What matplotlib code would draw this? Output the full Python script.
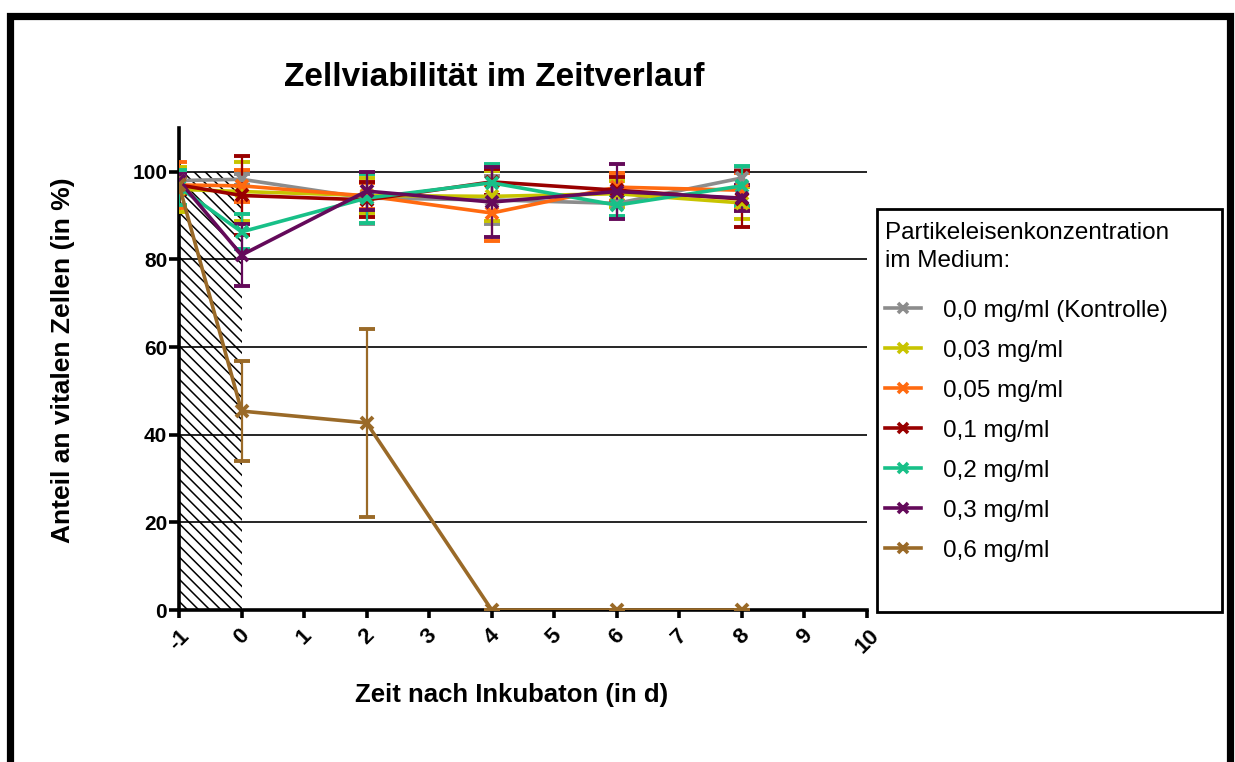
import matplotlib
matplotlib.use("Agg")
import matplotlib.pyplot as plt
from matplotlib.patches import Rectangle
from matplotlib.lines import Line2D

plt.rcParams['font.family'] = ['Liberation Sans', 'DejaVu Sans']
plt.rcParams['hatch.linewidth'] = 1.1

# ---- data ----
days = [-1, 0, 2, 4, 6, 8]
labels = ["0,0 mg/ml (Kontrolle)", "0,03 mg/ml", "0,05 mg/ml", "0,1 mg/ml",
          "0,2 mg/ml", "0,3 mg/ml", "0,6 mg/ml"]
colors = ["#8c8c8c", "#c8c400", "#ff6a10", "#990000", "#18c088", "#640a5a", "#9a6a28"]

v_00 = [98.0, 98.3, 94.0, 93.6, 92.8, 98.6]
e_00 = [2.0, 1.2, 5.8, 5.5, 3.0, 2.0]
v_003 = [96.0, 95.5, 94.6, 94.4, 95.0, 92.9]
e_003 = [5.2, 6.8, 4.0, 5.7, 3.0, 3.6]
v_005 = [97.0, 96.8, 94.5, 90.6, 96.5, 95.8]
e_005 = [5.2, 3.7, 3.0, 6.5, 3.2, 4.0]
v_01 = [97.0, 94.6, 93.6, 97.7, 95.8, 93.8]
e_01 = [2.0, 9.1, 4.0, 3.0, 3.0, 6.3]
v_02 = [96.5, 86.3, 94.0, 97.5, 92.4, 96.8]
e_02 = [4.0, 4.0, 5.6, 4.2, 2.4, 4.6]
v_03 = [98.0, 81.0, 95.6, 93.1, 95.5, 94.0]
e_03 = [1.5, 7.0, 4.4, 7.9, 6.3, 3.0]
v_06 = [97.0, 45.4, 42.7, 0.0, 0.0, 0.0]
e_06 = [1.5, 11.4, 21.5, 0.0, 0.0, 0.0]

values = [v_00, v_003, v_005, v_01, v_02, v_03, v_06]
errors = [e_00, e_003, e_005, e_01, e_02, e_03, e_06]

xticks = list(range(-1, 11))
yticks = [0, 20, 40, 60, 80, 100]
hatch_x = (-1, 0)
hatch_top = 100

title = "Zellviabilität im Zeitverlauf"
xlabel = "Zeit nach Inkubaton (in d)"
ylabel = "Anteil an vitalen Zellen (in %)"
legend_title = "Partikeleisenkonzentration\nim Medium:"

# ---- figure ----
W, H = 1235, 762
fig = plt.figure(figsize=(W / 100, H / 100), dpi=100)
ax = fig.add_axes([179 / W, 1 - 610 / H, (867 - 179) / W, (610 - 128) / H])
ax.set_xlim(-1, 10)
ax.set_ylim(0, 110)

# hatched pre-incubation region
ax.fill_between(list(hatch_x), 0, hatch_top, facecolor='none', edgecolor='black',
                hatch='\\\\\\', linewidth=0, zorder=1)

for yv in yticks[1:]:
    ax.axhline(yv, color='black', lw=1.2, zorder=2)

handles = []
for vals, errs, col, lab in zip(values, errors, colors, labels):
    ax.errorbar(days, vals, yerr=errs, color=col, ecolor=col, elinewidth=1.6,
                capsize=6, capthick=1.8, lw=2.6, marker='x', markersize=8,
                markeredgewidth=2.8, zorder=3)
    handles.append(Line2D([], [], color=col, lw=2.6, marker='x', markersize=7,
                          markeredgewidth=2.6))

ax.spines['top'].set_visible(False)
ax.spines['right'].set_visible(False)
ax.spines['left'].set_linewidth(2.6)
ax.spines['bottom'].set_linewidth(2.6)
ax.spines['left'].set_bounds(0, 110)
ax.set_xticks(xticks)
ax.set_yticks(yticks)
ax.set_xticklabels([str(t) for t in xticks], rotation=45, ha='center', va='top',
                   fontsize=16, fontweight='bold')
ax.set_yticklabels([str(t) for t in yticks], fontsize=15, fontweight='bold')
ax.tick_params(axis='y', length=7.5, width=2.6, pad=1)
ax.tick_params(axis='x', length=6, width=2.6, pad=5)

ax.set_xlabel(xlabel, fontsize=18.5, fontweight='bold')
ax.set_ylabel(ylabel, fontsize=19, fontweight='bold')
ax.xaxis.set_label_coords((512 - 179) / 688, (610 - 695) / 482)
ax.yaxis.set_label_coords((63 - 179) / 688, (610 - 360) / 482)
ax.xaxis.label.set_va('center')
ax.yaxis.label.set_va('center')

fig.text(494 / W, 1 - 78 / H, title, fontsize=24, fontweight='bold',
         ha='center', va='center')

# legend
leg = fig.legend(handles, labels, loc='upper left',
                 bbox_to_anchor=(885 / W, 1 - 222 / H), frameon=False,
                 title=legend_title, title_fontsize=17.5, fontsize=17.5,
                 handlelength=1.5, handletextpad=0.9, labelspacing=0.74,
                 borderpad=0, borderaxespad=0, alignment='left')
leg.get_title().set_linespacing(1.35)
leg._legend_box.sep = 20
fig.patches.append(Rectangle((877 / W, 1 - 612 / H), (1222 - 877) / W, (612 - 209) / H,
                             transform=fig.transFigure, fill=False,
                             edgecolor='black', lw=2.0))

# outer frame (open at bottom)
fig.patches.append(Rectangle((10 / W, -0.1), (1230 - 10) / W, 0.1 + 1 - 15.5 / H,
                             transform=fig.transFigure, fill=False,
                             edgecolor='black', lw=5.2))

fig.savefig("out.png", dpi=100)
